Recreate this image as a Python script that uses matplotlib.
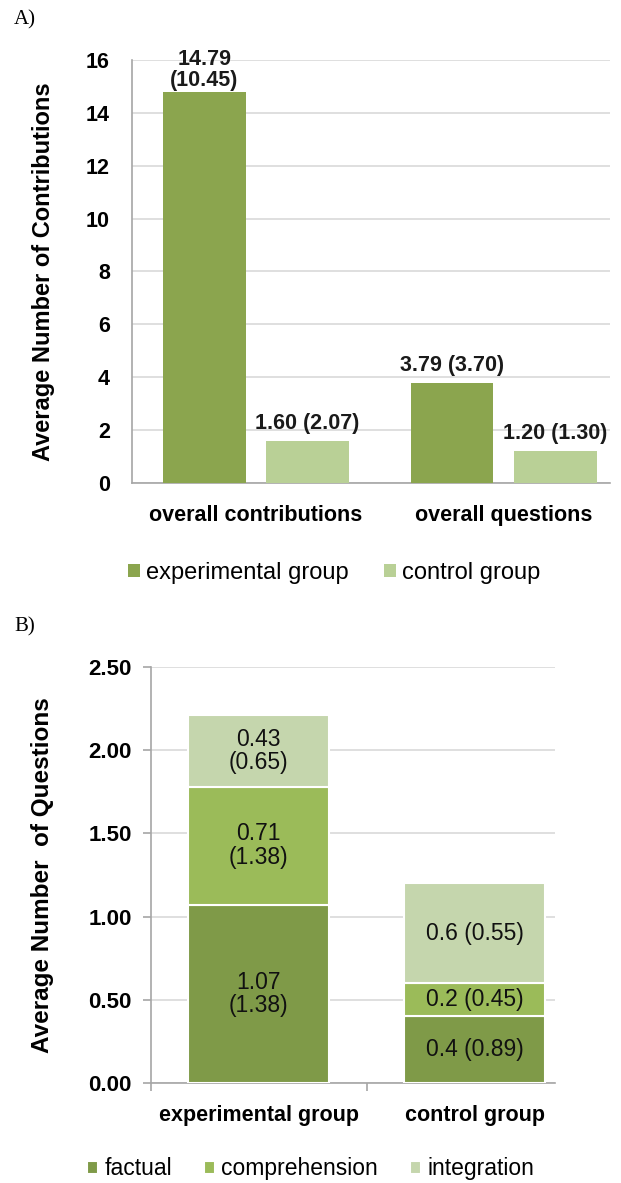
import numpy as np
import matplotlib.pyplot as plt

plt.rcParams['font.family'] = ['Liberation Sans', 'DejaVu Sans']

# Panel A data
a_categories = ['overall contributions', 'overall questions']
a_experimental = [14.79, 3.79]
a_control = [1.60, 1.20]
a_exp_labels = ['14.79\n(10.45)', '3.79 (3.70)']
a_ctrl_labels = ['1.60 (2.07)', '1.20 (1.30)']
a_series = ['experimental group', 'control group']

# Panel B data
b_groups = ['experimental group', 'control group']
b_factual = [1.07, 0.4]
b_comprehension = [0.71, 0.2]
b_integration = [0.43, 0.6]
b_factual_labels = ['1.07\n(1.38)', '0.4 (0.89)']
b_comprehension_labels = ['0.71\n(1.38)', '0.2 (0.45)']
b_integration_labels = ['0.43\n(0.65)', '0.6 (0.55)']
b_series = ['factual', 'comprehension', 'integration']

c_exp, c_ctrl = '#8BA54E', '#B9D096'
c_fact, c_comp, c_integ = '#7F9A48', '#9BBB59', '#C5D6AD'
grid_c = '#D9D9D9'
spine_c = '#A6A6A6'

fig = plt.figure(figsize=(6.21, 11.83), dpi=100)

# ---------------- Panel A ----------------
axA = fig.add_axes([0.2126, 0.5917, 0.7697, 0.3576])
x = np.arange(len(a_categories))
w = 0.335
off = 0.208
bars_e = axA.bar(x - off, a_experimental, w, color=c_exp, label=a_series[0], zorder=3)
bars_c = axA.bar(x + off, a_control, w, color=c_ctrl, label=a_series[1], zorder=3)

for bar, lab in zip(bars_e, a_exp_labels):
    dy = 1 if '\n' in lab else 5
    axA.annotate(lab, (bar.get_x() + bar.get_width() / 2, bar.get_height()),
                 xytext=(0, dy), textcoords='offset points', ha='center', va='bottom',
                 fontsize=15.5, fontweight='bold', color='#1a1a1a', linespacing=1.0,
                 zorder=4)
for bar, lab in zip(bars_c, a_ctrl_labels):
    axA.annotate(lab, (bar.get_x() + bar.get_width() / 2, bar.get_height()),
                 xytext=(0, 5), textcoords='offset points', ha='center', va='bottom',
                 fontsize=15.5, fontweight='bold', color='#1a1a1a', zorder=4)

axA.set_xlim(-0.5, 1.43)
axA.set_ylim(0, 16)
axA.set_yticks(np.arange(0, 17, 2))
axA.set_xticks(x)
axA.set_xticklabels(a_categories, fontsize=15.5, fontweight='bold')
axA.tick_params(axis='x', length=0, pad=16)
axA.tick_params(axis='y', length=0, pad=16, labelsize=15.5)
for t in axA.get_yticklabels():
    t.set_fontweight('bold')
axA.yaxis.grid(True, color=grid_c, linewidth=1.2, zorder=0)
axA.set_axisbelow(True)
for s in ['top', 'right']:
    axA.spines[s].set_visible(False)
for s in ['left', 'bottom']:
    axA.spines[s].set_color(spine_c)
    axA.spines[s].set_linewidth(1.2)
axA.set_ylabel('Average Number of Contributions', fontsize=17, fontweight='bold')
axA.yaxis.set_label_coords(-0.161, 0.5)
fig.legend(handles=[bars_e, bars_c], labels=a_series, loc='center',
           bbox_to_anchor=(0.538, 0.5156), ncol=2, frameon=False, fontsize=17,
           handlelength=0.5, handleheight=0.5, handletextpad=0.25, columnspacing=1.5)

# ---------------- Panel B ----------------
axB = fig.add_axes([0.2432, 0.0845, 0.6505, 0.3517])
xb = np.arange(len(b_groups))
wb = 0.653
bottom2 = np.array(b_factual)
bottom3 = bottom2 + np.array(b_comprehension)
segs = [
    (b_factual, np.zeros(2), c_fact, b_factual_labels),
    (b_comprehension, bottom2, c_comp, b_comprehension_labels),
    (b_integration, bottom3, c_integ, b_integration_labels),
]
handles = []
for vals, bot, col, labs in segs:
    bars = axB.bar(xb, vals, wb, bottom=bot, color=col, edgecolor='white',
                   linewidth=1.5, zorder=3)
    handles.append(bars)
    for bar, lab in zip(bars, labs):
        axB.text(bar.get_x() + bar.get_width() / 2, bar.get_y() + bar.get_height() / 2,
                 lab, ha='center', va='center', fontsize=16.5, color='#111111',
                 linespacing=1.05, zorder=4)

axB.set_xlim(-0.5, 1.373)
axB.set_ylim(0, 2.5)
axB.set_yticks(np.arange(0, 2.51, 0.5))
axB.set_yticklabels(['%.2f' % v for v in np.arange(0, 2.51, 0.5)])
axB.set_xticks([-0.5, 0.5])
axB.set_xticklabels([])
axB.set_xticks(xb, minor=True)
axB.set_xticklabels(b_groups, minor=True, fontsize=15.5, fontweight='bold')
axB.tick_params(axis='x', which='major', length=6, color=spine_c, width=1.2)
axB.tick_params(axis='x', which='minor', length=0, pad=16)
axB.tick_params(axis='y', length=6, color=spine_c, width=1.2, pad=8, labelsize=16)
for t in axB.get_yticklabels():
    t.set_fontweight('bold')
axB.yaxis.grid(True, color=grid_c, linewidth=1.2, zorder=0)
axB.set_axisbelow(True)
for s in ['top', 'right']:
    axB.spines[s].set_visible(False)
for s in ['left', 'bottom']:
    axB.spines[s].set_color(spine_c)
    axB.spines[s].set_linewidth(1.2)
axB.set_ylabel('Average Number  of Questions', fontsize=17.5, fontweight='bold')
axB.yaxis.set_label_coords(-0.24, 0.5)
fig.legend(handles=handles, labels=b_series, loc='center',
           bbox_to_anchor=(0.5, 0.012), ncol=3, frameon=False, fontsize=16.5,
           handlelength=0.5, handleheight=0.5, handletextpad=0.25, columnspacing=1.4)

# panel letters
fig.text(14 / 621, 1 - 20 / 1183, 'A)', family='Liberation Serif', fontsize=15, va='center')
fig.text(14 / 621, 1 - 627 / 1183, 'B)', family='Liberation Serif', fontsize=15, va='center')

fig.savefig('out.png', dpi=100)
